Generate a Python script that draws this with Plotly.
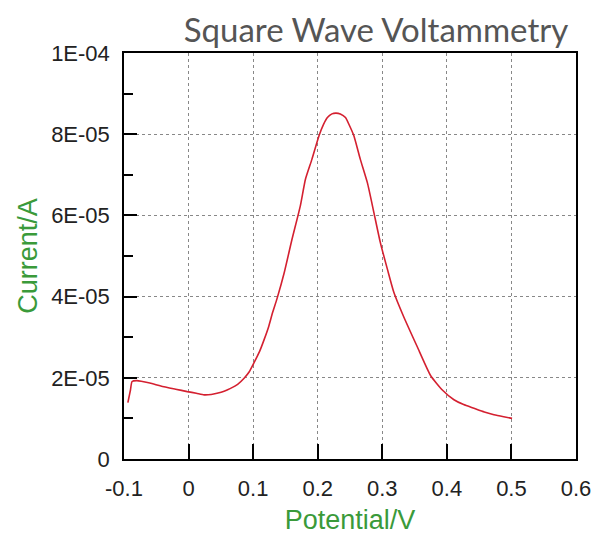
import plotly.graph_objects as go

potential = [-0.094, -0.090, -0.0875, -0.080, -0.060, -0.043, -0.020, -0.002, 0.012, 0.024,
             0.035, 0.044, 0.055, 0.065, 0.076, 0.086, 0.094, 0.101, 0.110, 0.117, 0.124,
             0.130, 0.137, 0.148, 0.160, 0.173, 0.181, 0.191, 0.202, 0.209, 0.215, 0.222, 0.228,
             0.235, 0.243, 0.249, 0.256, 0.266, 0.277, 0.287, 0.297, 0.308, 0.318, 0.333, 0.354,
             0.375, 0.393, 0.411, 0.426, 0.442, 0.458, 0.473, 0.488, 0.501]
current = [13.9e-6, 17.0e-6, 19.1e-6, 19.3e-6, 18.7e-6, 18.0e-6, 17.2e-6, 16.6e-6, 16.2e-6, 15.8e-6,
           15.9e-6, 16.2e-6, 16.7e-6, 17.4e-6, 18.4e-6, 19.9e-6, 21.5e-6, 23.6e-6, 26.5e-6, 29.4e-6, 32.6e-6,
           36.0e-6, 39.5e-6, 45.8e-6, 54.0e-6, 62.3e-6, 68.9e-6, 73.8e-6, 79.6e-6, 82.4e-6, 84.1e-6, 85.0e-6, 85.2e-6,
           85.0e-6, 84.1e-6, 82.2e-6, 79.6e-6, 73.8e-6, 68.0e-6, 60.7e-6, 53.3e-6, 46.7e-6, 41.0e-6, 35.1e-6, 27.7e-6,
           20.5e-6, 17.0e-6, 14.6e-6, 13.4e-6, 12.5e-6, 11.6e-6, 10.9e-6, 10.4e-6, 10.0e-6]

x_tickvals = [-0.1, 0, 0.1, 0.2, 0.3, 0.4, 0.5, 0.6]
x_ticktext = ["-0.1", "0", "0.1", "0.2", "0.3", "0.4", "0.5", "0.6"]
y_tickvals = [0, 2e-5, 4e-5, 6e-5, 8e-5, 1e-4]
y_ticktext = ["0", "2E-05", "4E-05", "6E-05", "8E-05", "1E-04"]

title_text = "Square Wave Voltammetry"
x_title = "Potential/V"
y_title = "Current/A"

fig = go.Figure()
fig.add_trace(go.Scatter(x=potential, y=current, mode="lines",
                         line=dict(color="#d42030", width=1.6, shape="spline", smoothing=0.5),
                         showlegend=False))

green = "#3a9a3a"
tickfont = dict(family="Liberation Sans, Arial", size=22, color="#222222")

fig.update_layout(
    width=595, height=539,
    margin=dict(l=124, r=19, t=53, b=80, autoexpand=False),
    paper_bgcolor="white", plot_bgcolor="white",
    title=dict(text=title_text, x=376 / 595, xanchor="center", y=1 - 30 / 539, yanchor="middle",
               font=dict(family="Lato, Open Sans", size=33, color="#555555")),
)
fig.update_xaxes(
    range=[-0.1, 0.6], tickvals=x_tickvals, ticktext=x_ticktext,
    showline=True, linecolor="black", linewidth=1.5, mirror=True,
    ticks="inside", ticklen=15, tickwidth=1.5, tickcolor="black",
    showgrid=True, gridcolor="#888888", griddash="dot", gridwidth=1,
    zeroline=False, tickfont=tickfont, ticklabelstandoff=9, automargin=False,
    title=dict(text=x_title, font=dict(family="Liberation Sans, Arial", size=27, color=green), standoff=10),
)
fig.update_yaxes(
    range=[0, 1e-4], tickvals=y_tickvals, ticktext=y_ticktext,
    showline=True, linecolor="black", linewidth=1.5, mirror=True,
    ticks="inside", ticklen=13, tickwidth=1.5, tickcolor="black",
    minor=dict(dtick=1e-5, tick0=0, ticks="inside", ticklen=9, tickwidth=1.5, tickcolor="black", showgrid=False),
    showgrid=True, gridcolor="#888888", griddash="dot", gridwidth=1,
    zeroline=False, tickfont=tickfont, ticklabelstandoff=8, automargin=False,
    title=dict(text=y_title, font=dict(family="Liberation Sans, Arial", size=27, color=green), standoff=6),
)

fig.write_html("out.html",
               config={"displayModeBar": False},
               post_script="document.body.style.margin='0';document.body.style.overflow='hidden';")
